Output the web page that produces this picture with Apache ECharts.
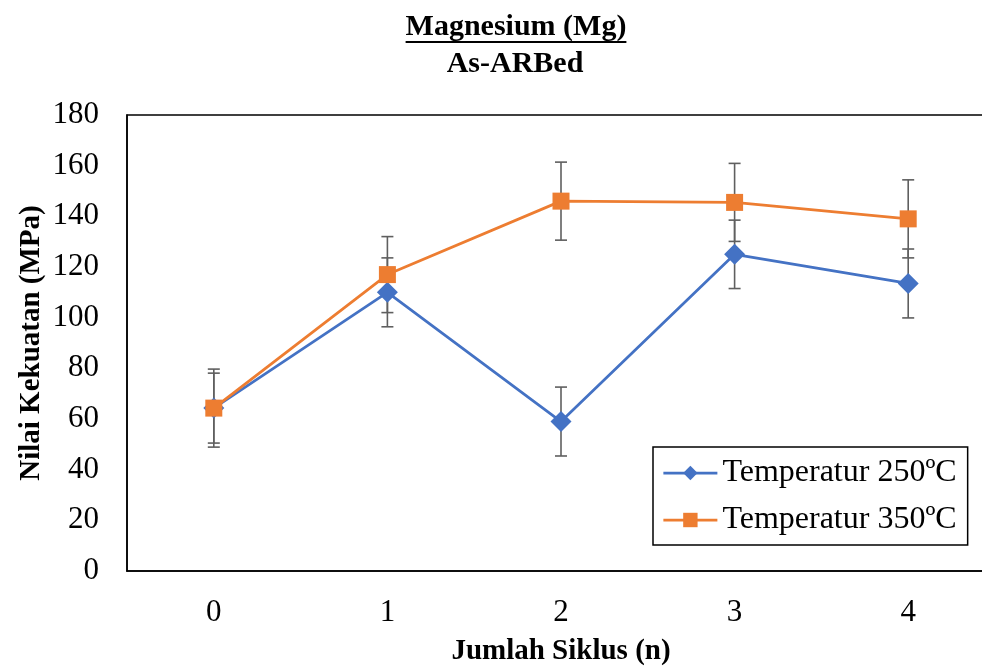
<!DOCTYPE html>
<html>
<head>
<meta charset="utf-8">
<script src="https://cdn.jsdelivr.net/npm/echarts@6/dist/echarts.min.js"></script>
<style>html,body{margin:0;padding:0;background:#fff;}#chart{width:982px;height:669px;}</style>
</head>
<body>
<div id="chart"></div>
<script>
const categories = ['0', '1', '2', '3', '4'];
const temp250 = [64.3, 110, 59, 125, 113.5];
const temp350 = [64.3, 117, 146, 145.5, 139];
const err250 = [13.8, 13.6, 13.6, 13.5, 13.6];
const err350 = [15.4, 15.0, 15.4, 15.4, 15.4];
const yTicks = { min: 0, max: 180, interval: 20 };
const seriesNames = ['Temperatur 250ºC', 'Temperatur 350ºC'];
const titleLines = ['Magnesium (Mg)', 'As-ARBed'];
const xName = 'Jumlah Siklus (n)';
const yName = 'Nilai Kekuatan (MPa)';

const FONT = '"Liberation Serif", "Times New Roman", serif';
const BLUE = '#4472C4', ORANGE = '#ED7D31', ERR = '#5f5f5f';

function measure(text, font) {
  const c = document.createElement('canvas').getContext('2d');
  c.font = font;
  return c.measureText(text).width;
}
const titleW = measure(titleLines[0], 'bold 30px "Liberation Serif"');

function errData(vals, errs) {
  return vals.map((v, i) => [i, v, errs[i]]);
}
function renderErr(params, api) {
  const i = api.value(0), v = api.value(1), e = api.value(2);
  const top = api.coord([i, v + e]);
  const bot = api.coord([i, v - e]);
  const hw = 6;
  const st = { stroke: ERR, lineWidth: 1.6 };
  return {
    type: 'group',
    children: [
      { type: 'line', shape: { x1: top[0], y1: top[1], x2: bot[0], y2: bot[1] }, style: st },
      { type: 'line', shape: { x1: top[0] - hw, y1: top[1], x2: top[0] + hw, y2: top[1] }, style: st },
      { type: 'line', shape: { x1: bot[0] - hw, y1: bot[1], x2: bot[0] + hw, y2: bot[1] }, style: st }
    ]
  };
}

const chart = echarts.init(document.getElementById('chart'), null, { renderer: 'canvas' });
chart.setOption({
  backgroundColor: '#fff',
  animation: false,
  textStyle: { fontFamily: FONT },
  grid: {
    left: 127, top: 115, width: 868, bottom: 98,
    outerBoundsMode: 'none', containLabel: false,
    show: true, borderColor: '#000', borderWidth: 1.5, backgroundColor: 'transparent'
  },
  legend: {
    data: seriesNames,
    orient: 'vertical',
    left: 653, top: 447,
    padding: [10, 11, 9, 9],
    itemGap: 15,
    itemWidth: 54, itemHeight: 18,
    backgroundColor: '#fff',
    borderColor: '#000', borderWidth: 1.5,
    lineStyle: { width: 2.75 },
    textStyle: { fontFamily: FONT, fontSize: 32, color: '#000', lineHeight: 30 }
  },
  xAxis: {
    type: 'category',
    data: categories,
    boundaryGap: true,
    axisLine: { lineStyle: { color: '#000', width: 1.5 } },
    axisTick: { show: false },
    axisLabel: { fontFamily: FONT, fontSize: 31, color: '#000', margin: 26 },
    splitLine: { show: false }
  },
  yAxis: {
    type: 'value',
    min: yTicks.min, max: yTicks.max, interval: yTicks.interval,
    axisLine: { show: true, lineStyle: { color: '#000', width: 1.5 } },
    axisTick: { show: false },
    axisLabel: { fontFamily: FONT, fontSize: 31, color: '#000', margin: 28 },
    splitLine: { show: false }
  },
  graphic: [
    { type: 'text', x: 516, y: 27, style: { text: titleLines[0], font: 'bold 30px ' + FONT, fill: '#000', align: 'center', verticalAlign: 'middle' } },
    { type: 'line', shape: { x1: 516 - titleW / 2, y1: 42, x2: 516 + titleW / 2, y2: 42 }, style: { stroke: '#000', lineWidth: 2.2 } },
    { type: 'text', x: 515, y: 64, style: { text: titleLines[1], font: 'bold 30px ' + FONT, fill: '#000', align: 'center', verticalAlign: 'middle' } },
    { type: 'text', x: 32, y: 343, rotation: Math.PI / 2, style: { text: yName, font: 'bold 29px ' + FONT, fill: '#000', align: 'center', verticalAlign: 'middle' } },
    { type: 'text', x: 561, y: 652, style: { text: xName, font: 'bold 29px ' + FONT, fill: '#000', align: 'center', verticalAlign: 'middle' } }
  ],
  series: [
    {
      type: 'custom', name: 'err250', renderItem: renderErr, data: errData(temp250, err250),
      encode: { x: 0, y: 1 }, z: 1, silent: true
    },
    {
      type: 'custom', name: 'err350', renderItem: renderErr, data: errData(temp350, err350),
      encode: { x: 0, y: 1 }, z: 1, silent: true
    },
    {
      type: 'line', name: seriesNames[0], data: temp250, z: 3,
      symbol: 'diamond', symbolSize: 21, showAllSymbol: true,
      itemStyle: { color: BLUE }, lineStyle: { color: BLUE, width: 2.75 }
    },
    {
      type: 'line', name: seriesNames[1], data: temp350, z: 4,
      symbol: 'rect', symbolSize: 17, showAllSymbol: true,
      itemStyle: { color: ORANGE }, lineStyle: { color: ORANGE, width: 2.75 }
    }
  ]
});
</script>
</body>
</html>
